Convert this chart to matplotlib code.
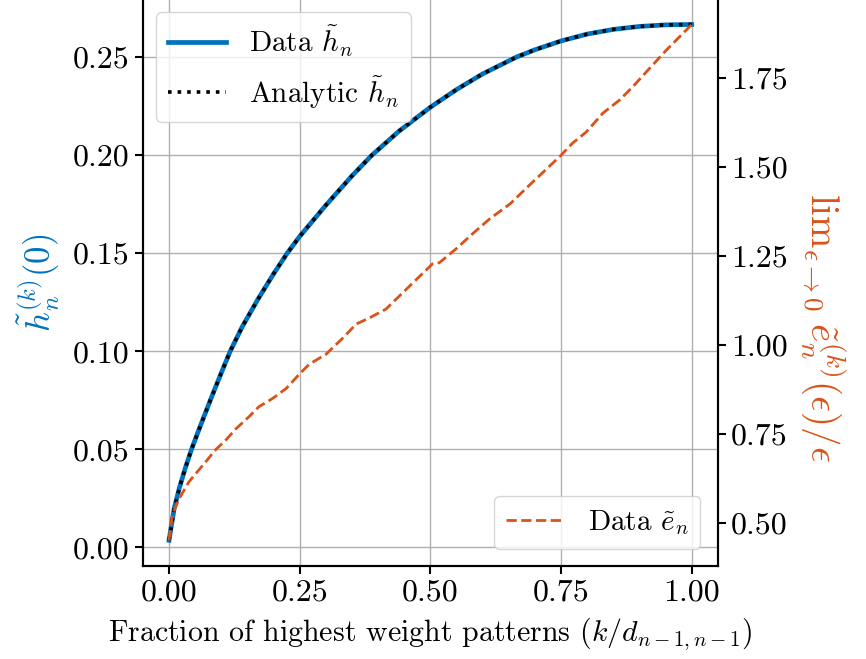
import numpy as np
import matplotlib
matplotlib.use("Agg")
import matplotlib.pyplot as plt
from matplotlib.ticker import FormatStrFormatter

plt.rcParams['font.family'] = 'serif'
plt.rcParams['font.serif'] = ['cmr10']
plt.rcParams['mathtext.fontset'] = 'cm'
plt.rcParams['axes.formatter.use_mathtext'] = True
plt.rcParams['axes.unicode_minus'] = False

# fraction of highest weight patterns and h-tilde values
frac_h = [0.0, 0.01, 0.02, 0.03, 0.043, 0.06, 0.08, 0.10, 0.117, 0.14, 0.17, 0.20,
          0.226, 0.25, 0.30, 0.35, 0.388, 0.44, 0.50, 0.55, 0.60, 0.664, 0.70, 0.75,
          0.80, 0.85, 0.90, 0.95, 1.0]
h_data = [0.0036, 0.020, 0.0305, 0.0395, 0.050, 0.062, 0.0757, 0.0890, 0.100, 0.1125,
          0.1265, 0.1395, 0.150, 0.1586, 0.1745, 0.1895, 0.200, 0.2123, 0.2245, 0.2335,
          0.2415, 0.250, 0.2538, 0.2583, 0.2618, 0.2642, 0.2657, 0.2665, 0.2667]
h_analytic = h_data

# fraction and e-tilde slope values
frac_e = [0.0, 0.0064, 0.019, 0.038, 0.054, 0.070, 0.089, 0.109, 0.128, 0.153,
          0.172, 0.198, 0.224, 0.249, 0.268, 0.300, 0.332, 0.358, 0.383, 0.415,
          0.431, 0.504, 0.517, 0.549, 0.581, 0.614, 0.653, 0.683, 0.709, 0.750,
          0.772, 0.798, 0.830, 0.862, 0.887, 0.920, 0.952, 0.977, 1.0]
e_data = [0.452, 0.523, 0.568, 0.616, 0.644, 0.672, 0.706, 0.734, 0.765, 0.799,
          0.827, 0.850, 0.878, 0.918, 0.946, 0.974, 1.019, 1.059, 1.076, 1.101,
          1.124, 1.228, 1.231, 1.270, 1.313, 1.355, 1.397, 1.440, 1.476, 1.533,
          1.567, 1.598, 1.651, 1.688, 1.725, 1.778, 1.829, 1.866, 1.900]

blue = '#0072BD'
orange = '#D95319'

fig = plt.figure(figsize=(8.66, 6.59), dpi=100)
ax = fig.add_axes([0.165, 0.141, 0.664, 0.861])
ax.plot(frac_h, h_data, color=blue, lw=3.4, label=r'Data $\tilde{h}_n$')
ax.plot(frac_h, h_analytic, color='k', lw=2.6, ls=':', label=r'Analytic $\tilde{h}_n$')
ax.grid(True, color='#b0b0b0', lw=1)
ax.set_xticks([0, 0.25, 0.5, 0.75, 1.0])
ax.set_yticks([0, 0.05, 0.1, 0.15, 0.2, 0.25])
ax.xaxis.set_major_formatter(FormatStrFormatter('%.2f'))
ax.yaxis.set_major_formatter(FormatStrFormatter('%.2f'))
ax.tick_params(labelsize=23)
ax.set_xlabel(r'Fraction of highest weight patterns $(k/d_{n-1,n-1})$', fontsize=21.5, labelpad=6)
ax.set_ylabel(r'$\tilde{h}_n^{(k)}(0)$', color=blue, fontsize=25, labelpad=8)
ax.legend(loc='upper left', fontsize=21, borderaxespad=0.45)

ax2 = ax.twinx()
ax2.plot(frac_e, e_data, color=orange, lw=2.0, ls='--', label=r'Data $\tilde{e}_n$')
ax2.set_yticks([0.5, 0.75, 1.0, 1.25, 1.5, 1.75])
ax2.yaxis.set_major_formatter(FormatStrFormatter('%.2f'))
ax2.tick_params(labelsize=23)
ax2.set_ylabel(r'$\mathrm{lim}_{\epsilon\to 0}\;\tilde{e}_n^{(k)}(\epsilon)/\epsilon$',
               color=orange, fontsize=28, rotation=270)
ax2.yaxis.set_label_coords(1.228, 0.42)
ax2.legend(loc='lower right', fontsize=21, borderaxespad=0.6)

for a in (ax, ax2):
    for s in a.spines.values():
        s.set_linewidth(1.5)
    a.tick_params(width=1.5, length=6)

fig.savefig('out.png', dpi=100)
